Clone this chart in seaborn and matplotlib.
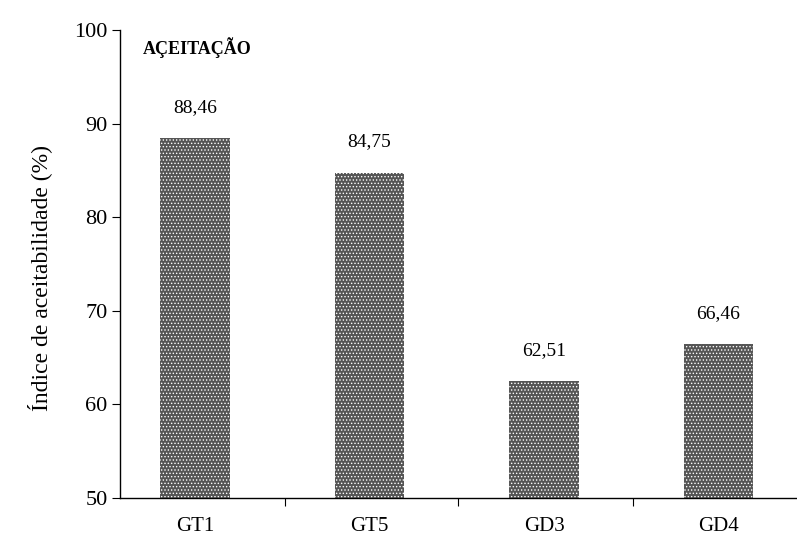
import matplotlib
matplotlib.use("Agg")
import matplotlib.pyplot as plt
import seaborn as sns
import pandas as pd

categories = ["GT1", "GT5", "GD3", "GD4"]
values = [88.46, 84.75, 62.51, 66.46]
value_labels = ["88,46", "84,75", "62,51", "66,46"]
yticks = [50, 60, 70, 80, 90, 100]

sns.set_theme(style="white")
plt.rcParams['font.family'] = ['Liberation Serif', 'DejaVu Serif']
plt.rcParams['text.color'] = 'black'
plt.rcParams['axes.labelcolor'] = 'black'
plt.rcParams['xtick.color'] = 'black'
plt.rcParams['ytick.color'] = 'black'
plt.rcParams['hatch.color'] = '#a8a8a8'
plt.rcParams['hatch.linewidth'] = 0.6

df = pd.DataFrame({"cat": categories, "val": values})
fig = plt.figure(figsize=(7.97, 5.5), dpi=100)
ax = fig.add_axes([0.1506, 0.0945, 0.8494, 0.8505])
sns.barplot(data=df, x="cat", y="val", color="#555555", width=0.40,
            saturation=1, ax=ax, linewidth=0)
for p in ax.patches:
    p.set_hatch('.....')
    p.set_linewidth(0)

ax.set_ylim(50, 100)
ax.set_xlim(-0.43, 3.45)
ax.set_yticks(yticks)
ax.set_yticklabels([str(t) for t in yticks], fontsize=16)
ax.set_xticks(range(len(categories)))
ax.set_xticklabels(categories, fontsize=15)
ax.tick_params(axis='x', which='major', length=0, pad=14)
ax.set_xticks([0.515, 1.505, 2.51], minor=True)
ax.tick_params(axis='x', which='minor', length=6, width=0.8, direction='out', bottom=True)
ax.tick_params(axis='y', length=6, width=0.8, direction='out', left=True, pad=3)
for s in ["top", "right"]:
    ax.spines[s].set_visible(False)
for s in ["left", "bottom"]:
    ax.spines[s].set_color("black")
    ax.spines[s].set_linewidth(1.0)
ax.set_xlabel("")
ax.set_ylabel("Índice de aceitabilidade (%)", fontsize=17)
ax.yaxis.set_label_coords(-0.100, 0.47)

for i, (v, lab) in enumerate(zip(values, value_labels)):
    ax.text(i, v + 3.3, lab, ha="center", va="center", fontsize=14)

ax.text(0.033, 0.962, "AÇEITAÇÃO", transform=ax.transAxes, ha="left", va="center",
        fontsize=13, fontweight="bold")

fig.savefig("out.png", dpi=100)
